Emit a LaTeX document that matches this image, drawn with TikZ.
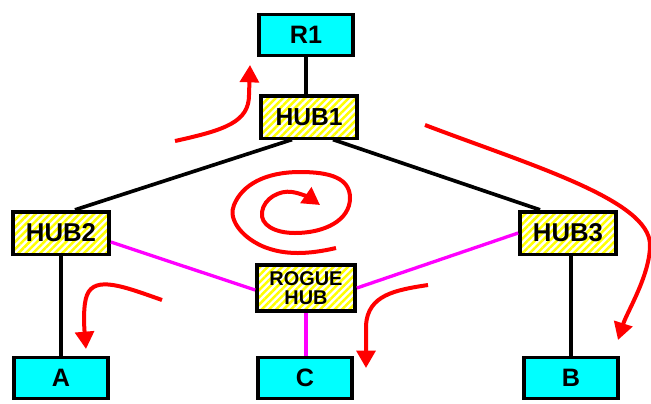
\documentclass[tikz,border=0pt]{standalone}
\usepackage{fontspec}
\setmainfont{Liberation Sans}
\usetikzlibrary{arrows.meta,calc,patterns.meta}
\definecolor{NetCyan}{HTML}{00FFFF}
\definecolor{NetMagenta}{HTML}{FF00FF}
\definecolor{NetRed}{HTML}{FF0000}
\definecolor{NetYellow}{HTML}{FFFF00}

\begin{document}
\begin{tikzpicture}[x=0.3mm, y=-0.3mm,
    endbox/.style={
      draw=black, line width=1.1mm, fill=NetCyan,
      minimum width=28.2mm, minimum height=12.3mm, inner sep=0pt,
      font=\fontsize{21.5}{21.5}\selectfont\bfseries
    },
    hubbox/.style={
      draw=black, line width=1.1mm,
      pattern={Lines[angle=45, distance=1.55mm, line width=0.75mm]},
      pattern color=NetYellow,
      minimum width=28.8mm, minimum height=12.8mm, inner sep=0pt,
      font=\fontsize{22}{22}\selectfont\bfseries
    },
    roguebox/.style={
      hubbox, minimum width=29.4mm, minimum height=13.8mm,
      font=\fontsize{17}{16}\selectfont\bfseries, align=center
    },
    link/.style={line width=1.1mm, draw=black},
    wlink/.style={line width=1mm, draw=NetMagenta},
    redarr/.style={line width=1.2mm, draw=NetRed,
      -{Triangle[length=5.2mm, width=5.6mm]}, NetRed}
  ]
  \useasboundingbox (0,0) rectangle (651,403);

  % Router and hubs
  \node[endbox] (R1) at (306, 35) {R1};
  \node[hubbox, font=\fontsize{21}{21}\selectfont\bfseries] (HUB1) at (309, 117) {HUB1};
  \node[hubbox] (HUB2) at (61, 233) {HUB2};
  \node[hubbox] (HUB3) at (568, 233) {HUB3};
  \node[roguebox] (ROGUE) at (306, 288) {ROGUE\\HUB};

  % Hosts
  \node[endbox] (A) at (61, 378) {A};
  \node[endbox] (C) at (305, 378) {C};
  \node[endbox] (B) at (571, 378) {B};

  % Wired links
  \draw[link] (R1.south) -- (R1.south |- HUB1.north);
  \draw[link] ($(HUB1.south)+(-17,0)$) -- ($(HUB2.north)+(14,0)$);
  \draw[link] ($(HUB1.south)+(24,0)$) -- ($(HUB3.north)+(-28,0)$);
  \draw[link] (HUB2.south) -- (HUB2.south |- A.north);
  \draw[link] (B.north) -- (B.north |- HUB3.south);

  % Rogue links
  \draw[wlink] ($(HUB2.east)+(0,9)$) -- ($(ROGUE.west)+(0,2)$);
  \draw[wlink] (HUB3.west) -- (ROGUE.east);
  \draw[wlink] (ROGUE.south) -- (ROGUE.south |- C.north);

  % Traffic
  \draw[redarr] (175,141) .. controls (225,130) and (249,122) .. (249,95) -- (250,65);
  \draw[redarr] (425,125) .. controls (530,165) and (650,200) .. (650,245)
    .. controls (650,275) and (627,312) .. (618,340);
  \draw[redarr] (336,248) .. controls (310,254) and (285,256) .. (262,246)
    .. controls (240,236) and (228,218) .. (234,205)
    .. controls (242,185) and (265,172) .. (300,172)
    .. controls (330,172) and (350,178) .. (350,198)
    .. controls (350,220) and (325,233) .. (295,233)
    .. controls (275,233) and (260,225) .. (262,212)
    .. controls (264,198) and (280,190) .. (292,192)
    .. controls (300,193) and (310,198) .. (320,205);
  \draw[redarr] (162,300) .. controls (125,287) and (95,275) .. (87,295)
    .. controls (83,305) and (84,325) .. (86,349);
  \draw[redarr] (428,285) .. controls (395,290) and (368,295) .. (366,325) -- (366,368);

\end{tikzpicture}
\end{document}
